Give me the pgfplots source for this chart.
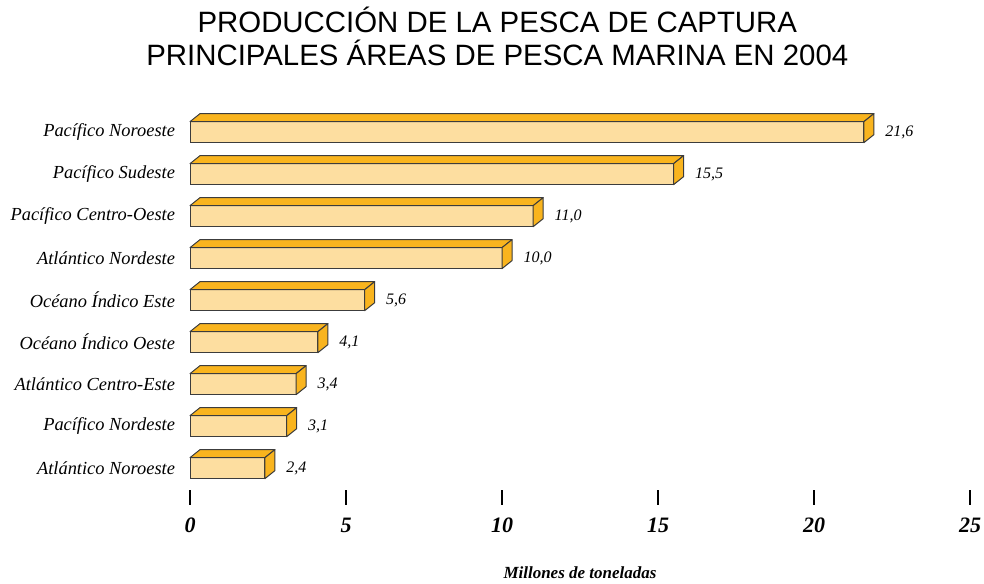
\documentclass[border=0pt]{standalone}
\usepackage{pgfplots}
\pgfplotsset{compat=1.18}
\usepackage{pgfplotstable}
\usepackage{fontspec}
\setmainfont{Liberation Serif}
\newfontfamily\titlefont{Liberation Sans}

\definecolor{barfront}{RGB}{253,222,160}
\definecolor{barside}{RGB}{249,180,30}
\definecolor{baredge}{RGB}{60,60,60}

% catch, millions of tonnes (idx 8 = top row)
\pgfplotstableread{
idx value
8 21.6
7 15.5
6 11.0
5 10.0
4 5.6
3 4.1
2 3.4
1 3.1
0 2.4
}\catchdata

\tikzset{face/.style={fill=barside,draw=baredge,line width=0.5pt,line join=round}}

\begin{document}
\begin{tikzpicture}
\useasboundingbox (0,0) rectangle (492pt,291.5pt);
\begin{axis}[
  at={(95pt,46.5pt)}, anchor=south west,
  x=15.6pt, y=21pt,
  xmin=0, xmax=25, ymin=-0.52, ymax=8.65,
  scale only axis,
  xbar, bar width=10.5pt,
  axis lines*=left,
  axis line style={draw=none},
  tick align=outside,
  xtick={0,5,...,25},
  xtick style={draw=black,line width=0.6pt},
  major tick length=7.5pt,
  ytick={0,...,8},
  ytick style={draw=none},
  yticklabels={Atlántico Noroeste,Pacífico Nordeste,Atlántico Centro-Este,Océano Índico Oeste,Océano Índico Este,Atlántico Nordeste,Pacífico Centro-Oeste,Pacífico Sudeste,Pacífico Noroeste},
  yticklabel style={font=\fontsize{9.2}{11}\selectfont\itshape,xshift=3.5pt},
  /pgf/number format/assume math mode=true,
  xticklabel style={font=\fontsize{11}{13}\selectfont\bfseries\itshape,yshift=-3pt},
  xlabel={Millones de toneladas},
  xlabel style={font=\fontsize{8.5}{10}\selectfont\bfseries\itshape,
    at={(axis description cs:0.5,0)},anchor=center,yshift=-41.5pt},
  title={PRODUCCIÓN DE LA PESCA DE CAPTURA\\PRINCIPALES ÁREAS DE PESCA MARINA EN 2004},
  title style={font=\titlefont\fontsize{14.7}{16.5}\selectfont,align=center,
    at={(axis description cs:0.394,1)},anchor=center,yshift=28pt},
  nodes near coords,
  nodes near coords align={horizontal},
  every node near coord/.append style={font=\fontsize{8}{10}\selectfont\itshape,
    anchor=west,inner sep=0pt,xshift=10.5pt,
    /pgf/number format/.cd,fixed,fixed zerofill,precision=1,use comma},
  clip=false,
]
\addplot[fill=barfront,draw=baredge,line width=0.5pt] table[x=value,y=idx] {\catchdata};
\pgfplotsinvokeforeach{0,...,8}{
  \pgfplotstablegetelem{#1}{value}\of\catchdata \let\vv\pgfplotsretval
  \pgfplotstablegetelem{#1}{idx}\of\catchdata \let\yy\pgfplotsretval
  \pgfmathsetmacro\yt{\yy+0.25}
  \pgfmathsetmacro\yb{\yy-0.25}
  \edef\temp{%
    \noexpand\filldraw[face] (axis cs:0,\yt) -- ++(5pt,4pt) -- ([shift={(5pt,4pt)}]axis cs:\vv,\yt) -- (axis cs:\vv,\yt) -- cycle;
    \noexpand\filldraw[face] (axis cs:\vv,\yt) -- ++(5pt,4pt) -- ([shift={(5pt,4pt)}]axis cs:\vv,\yb) -- (axis cs:\vv,\yb) -- cycle;
  }\temp
}
\end{axis}
\end{tikzpicture}
\end{document}
